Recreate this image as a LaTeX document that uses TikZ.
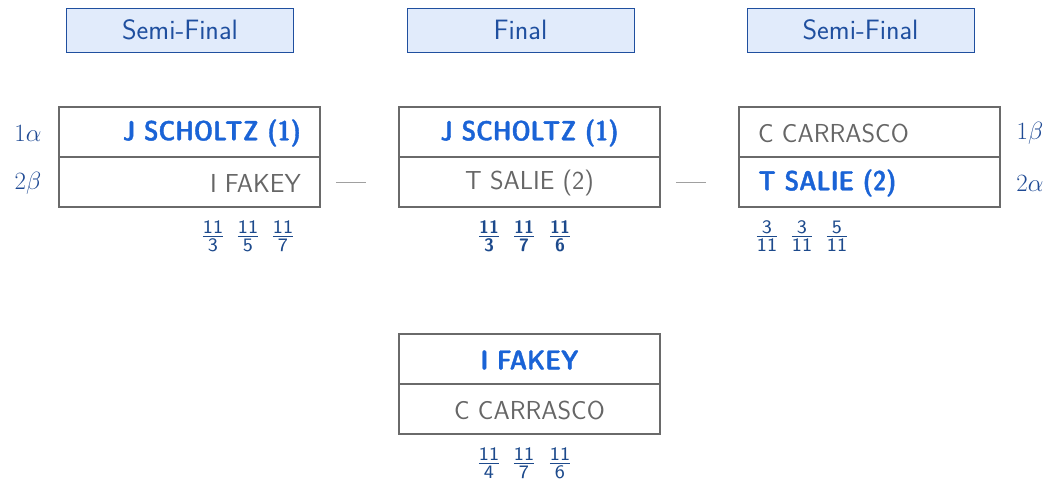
\documentclass[tikz,border=0pt]{standalone}
\usepackage{amsmath}
\usepackage{fontspec}
\newfontfamily\semibold[FakeBold=1.3]{lmsansdemicond10-regular.otf}
\newfontfamily\fracsans{lmsans8-regular.otf}
\newfontfamily\fracsansbold{lmsans10-bold.otf}
\usetikzlibrary{calc}
\definecolor{win}{HTML}{1A63D6}
\definecolor{lose}{HTML}{666666}
\definecolor{boxline}{HTML}{6A6A6A}
\definecolor{hdrfill}{HTML}{E1EBFB}
\definecolor{hdrline}{HTML}{1F4F9F}
\definecolor{seed}{HTML}{1F4A94}
\definecolor{score}{HTML}{1D4A8C}
\definecolor{conn}{HTML}{A0A0A0}
\tikzset{
  slot/.style={draw=boxline, line width=1.8pt, minimum width=261pt, minimum height=50pt, inner sep=0pt},
  hdr/.style={draw=hdrline, fill=hdrfill, line width=0.9pt, minimum width=227pt, minimum height=44pt, inner sep=0pt, text=hdrline, font=\fontsize{28}{32}\selectfont\sffamily},
  winner/.style={text=win, font=\fontsize{27.5}{32}\selectfont\semibold, inner sep=0pt},
  loser/.style={text=lose, font=\fontsize{26}{30}\selectfont\sffamily, inner sep=0pt},
  seedlab/.style={text=seed, font=\fontsize{24}{28}\selectfont, inner sep=0pt},
  sc/.style={text=score, font=\fontsize{26}{30}\selectfont, inner sep=0pt},
  link/.style={draw=conn, line width=1pt}
}
\newcommand{\fd}[1]{\mbox{\fontsize{19}{20}\selectfont\fracsans #1}}
\newcommand{\fdb}[1]{\mbox{\fontsize{18}{20}\selectfont\fracsansbold #1}}
\newcommand{\fr}[2]{$\frac{\fd{#1}}{\fd{#2}}$}
\newcommand{\frb}[2]{$\frac{\fdb{#1}}{\fdb{#2}}$}
\begin{document}
\begin{tikzpicture}[x=1pt,y=-1pt]
\useasboundingbox (0,0) rectangle (1048,482);
% headers
\node[hdr] (H1) at (180,30) {Semi-Final};
\node[hdr] (H2) at (520.5,30) {Final};
\node[hdr] (H3) at (860.5,30) {Semi-Final};
% left semi
\node[slot] (L1) at (189.5,132) {};
\node[slot] (L2) at (189.5,182) {};
\node[winner, anchor=east] (L1t) at (301,133) {J SCHOLTZ (1)};
\node[loser, anchor=east] (L2t) at (301,183) {I FAKEY};
\node[seedlab] (s1) at (28,133) {$1\alpha$};
\node[seedlab] (s2) at (28,183) {$2\beta$};
\node[sc] (l1) at (213,236) {\fr{11}{3}};
\node[sc] (l2) at (248,236) {\fr{11}{5}};
\node[sc] (l3) at (283,236) {\fr{11}{7}};
% final
\node[slot] (M1) at (529.5,132) {};
\node[slot] (M2) at (529.5,182) {};
\node[winner] (M1t) at (529.5,133) {J SCHOLTZ (1)};
\node[loser] (M2t) at (529.5,183) {T SALIE (2)};
\node[sc] (m1) at (489,236) {\frb{11}{3}};
\node[sc] (m2) at (524,236) {\frb{11}{7}};
\node[sc] (m3) at (560,236) {\frb{11}{6}};
% right semi
\node[slot] (R1) at (869.5,132) {};
\node[slot] (R2) at (869.5,182) {};
\node[loser, anchor=west] (R1t) at (758,133) {C CARRASCO};
\node[winner, anchor=west] (R2t) at (758,183) {T SALIE (2)};
\node[seedlab] (s3) at (1030,133) {$1\beta$};
\node[seedlab] (s4) at (1030,183) {$2\alpha$};
\node[sc] (r1) at (767,236) {\fr{3}{11}};
\node[sc] (r2) at (802,236) {\fr{3}{11}};
\node[sc] (r3) at (837,236) {\fr{5}{11}};
% third place
\node[slot] (B1) at (529.5,359) {};
\node[slot] (B2) at (529.5,409) {};
\node[winner] (B1t) at (529.5,360) {I FAKEY};
\node[loser] (B2t) at (529.5,410) {C CARRASCO};
\node[sc] (b1) at (489,463) {\fr{11}{4}};
\node[sc] (b2) at (524,463) {\fr{11}{7}};
\node[sc] (b3) at (560,463) {\fr{11}{6}};
% connectors
\draw[link] ($(L2.east)+(15,0)$) -- ($(M2.west)+(-32,0)$);
\draw[link] ($(M2.east)+(15,0)$) -- ($(R2.west)+(-32,0)$);
\end{tikzpicture}
\end{document}
